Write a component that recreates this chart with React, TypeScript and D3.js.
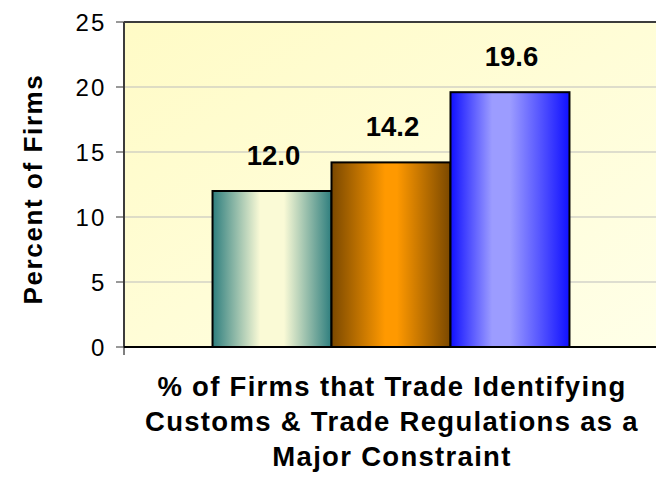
import React from "react";
import * as d3 from "d3";

const categories = ["% of Firms that Trade Identifying Customs & Trade Regulations as a Major Constraint"];
const seriesNames = ["Series 1", "Series 2", "Series 3"];
const values = [12.0, 14.2, 19.6];
const yTicks = [0, 5, 10, 15, 20, 25];
const xTitleLines = ["% of Firms that Trade Identifying", "Customs & Trade Regulations as a", "Major Constraint"];
const yTitle = "Percent of Firms";

const W = 656;
const H = 484;
const plot = { left: 124, top: 22, right: 658, bottom: 347 };
const FONT = "'Liberation Sans', Arial, sans-serif";

const gradients = [
  { id: "g1", edge: "#2E7E7E", mid: "#FAFAD6", stops: [0, 0.4, 0.6, 1] },
  { id: "g2", edge: "#7A4800", mid: "#FF9900", stops: [0, 0.45, 0.55, 1] },
  { id: "g3", edge: "#1010FF", mid: "#9C9CFF", stops: [0, 0.35, 0.5, 1] },
];

export default function App() {
  const x0 = d3.scaleBand<string>().domain(categories).range([plot.left, plot.right]).paddingInner(0).paddingOuter(0.248);
  const x1 = d3.scaleBand<string>().domain(seriesNames).range([0, x0.bandwidth()]).padding(0);
  const y = d3.scaleLinear().domain([0, 25]).range([plot.bottom, plot.top]);
  const cx = (x0(categories[0]) ?? 0) + x0.bandwidth() / 2;

  return (
    <svg width={W} height={H} style={{ position: "absolute", left: 0, top: 0, background: "#fff" }} fontFamily={FONT}>
      <defs>
        <linearGradient id="bg" x1="0" y1="0" x2="1" y2="1">
          <stop offset="0" stopColor="#FFFBC6" />
          <stop offset="1" stopColor="#FFFFE8" />
        </linearGradient>
        {gradients.map((g) => (
          <linearGradient key={g.id} id={g.id} x1="0" y1="0" x2="1" y2="0">
            <stop offset={g.stops[0]} stopColor={g.edge} />
            <stop offset={g.stops[1]} stopColor={g.mid} />
            <stop offset={g.stops[2]} stopColor={g.mid} />
            <stop offset={g.stops[3]} stopColor={g.edge} />
          </linearGradient>
        ))}
      </defs>
      <rect x={plot.left} y={plot.top} width={plot.right - plot.left} height={plot.bottom - plot.top} fill="url(#bg)" />
      {yTicks.filter((t) => t > 0 && t < 25).map((t) => (
        <line key={"g" + t} x1={plot.left} x2={plot.right} y1={y(t)} y2={y(t)} stroke="#BDBDBD" strokeWidth={1} />
      ))}
      <line x1={plot.left} x2={plot.right} y1={plot.top} y2={plot.top} stroke="#3c3c3c" strokeWidth={2} />
      <line x1={plot.left} x2={plot.left} y1={plot.top} y2={plot.bottom} stroke="#3c3c3c" strokeWidth={2} />
      {values.map((v, i) => {
        const bx = (x0(categories[0]) ?? 0) + (x1(seriesNames[i]) ?? 0);
        return (
          <rect key={i} x={bx} y={y(v)} width={x1.bandwidth()} height={y(0) - y(v)} fill={`url(#${gradients[i].id})`} stroke="#000" strokeWidth={2} />
        );
      })}
      {values.map((v, i) => {
        const bx = (x0(categories[0]) ?? 0) + (x1(seriesNames[i]) ?? 0) + x1.bandwidth() / 2;
        return (
          <text key={"l" + i} x={bx + 1.5} y={y(v) - 26} textAnchor="middle" fontSize={27.5} fontWeight="bold" fill="#000">
            {v.toFixed(1)}
          </text>
        );
      })}
      <line x1={plot.left} x2={plot.right} y1={plot.bottom} y2={plot.bottom} stroke="#000" strokeWidth={2} />
      {yTicks.map((t) => (
        <g key={"t" + t}>
          <line x1={116} x2={plot.left} y1={y(t)} y2={y(t)} stroke="#333" strokeWidth={1} />
          <text x={106.5} y={y(t) + 8.5} textAnchor="end" fontSize={24} letterSpacing={2.2} fill="#000">
            {t}
          </text>
        </g>
      ))}
      <line x1={plot.left} x2={plot.left} y1={plot.bottom} y2={plot.bottom + 8} stroke="#000" strokeWidth={1} />
      <text transform={`translate(42,189) rotate(-90)`} textAnchor="middle" fontSize={26} fontWeight="bold" letterSpacing={1.6} fill="#000">
        {yTitle}
      </text>
      {xTitleLines.map((l, i) => (
        <text key={"x" + i} x={cx + 1} y={396 + i * 35} textAnchor="middle" fontSize={27.5} fontWeight="bold" letterSpacing={1.3} fill="#000">
          {l}
        </text>
      ))}
    </svg>
  );
}
